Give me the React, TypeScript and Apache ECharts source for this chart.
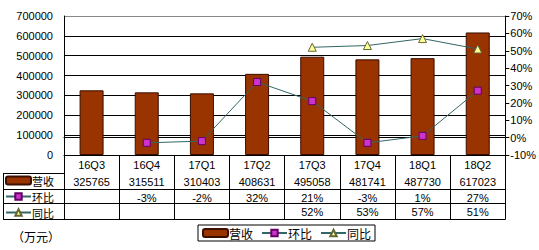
import React, { useEffect, useRef } from "react";
import * as echarts from "echarts";

const categories = ["16Q3", "16Q4", "17Q1", "17Q2", "17Q3", "17Q4", "18Q1", "18Q2"];
const revenue = [325765, 315511, 310403, 408631, 495058, 481741, 487730, 617023];
const qoq: (number | null)[] = [null, -3, -2, 32, 21, -3, 1, 27];
const yoy: (number | null)[] = [null, null, null, null, 52, 53, 57, 51];
const seriesNames = ["营收", "环比", "同比"];
const leftTicks = { min: 0, max: 700000, interval: 100000 };
const rightTicks = { min: -10, max: 70, interval: 10 };

const FONT = "Liberation Sans, Noto Sans CJK SC, sans-serif";
const CJK = "Noto Sans CJK SC, sans-serif";

export default function App() {
  const ref = useRef<HTMLDivElement>(null);
  useEffect(() => {
    if (!ref.current) return;
    const chart = echarts.init(ref.current, undefined, { renderer: "svg" });
    const pct = (v: number | null) => (v == null ? "" : `${v}%`);
    const rowAxis = (offset: number, fmt: ((i: number) => string) | null) => ({
      type: "category",
      data: categories,
      gridIndex: 0,
      position: "bottom",
      offset,
      axisLine: { show: true, lineStyle: { color: "#000", width: 1 } },
      axisTick: { show: false },
      axisLabel: fmt
        ? {
            show: true,
            interval: 0,
            margin: 3,
            color: "#000",
            fontSize: 11,
            fontFamily: FONT,
            formatter: (_v: string, i: number) => fmt(i),
          }
        : { show: false },
      splitLine: { show: false },
    });
    const rowLegend = (name: string, top: number) => ({
      orient: "vertical",
      left: 5,
      top,
      itemWidth: 25,
      itemHeight: 8,
      padding: 0,
      textStyle: { fontSize: 11, fontFamily: CJK, color: "#000", lineHeight: 11, padding: [0, 0, 0, -4] },
      data: [name],
    });
    const rowLines = [173.5, 189.5, 203.5, 219.5].map((y) => ({
      type: "line",
      shape: { x1: 3, y1: y, x2: 64, y2: y },
      style: { stroke: "#000", lineWidth: 1 },
    }));
    const option: any = {
      animation: false,
      backgroundColor: "#fff",
      textStyle: { fontFamily: FONT },
      grid: { left: 64, right: 31, top: 16, bottom: 95 },
      xAxis: [
        {
          type: "category",
          data: categories,
          position: "bottom",
          axisLine: { show: true, lineStyle: { color: "#000", width: 1 } },
          axisTick: { show: true, length: 64, interval: 0, lineStyle: { color: "#000" } },
          axisLabel: { interval: 0, margin: 4, color: "#000", fontSize: 11, fontFamily: FONT },
        },
        rowAxis(18, (i) => String(revenue[i])),
        rowAxis(34, (i) => pct(qoq[i])),
        rowAxis(48, (i) => pct(yoy[i])),
        rowAxis(64, null),
      ],
      yAxis: [
        {
          type: "value",
          ...leftTicks,
          axisLine: { show: true, lineStyle: { color: "#000" } },
          axisTick: { show: false },
          axisLabel: {
            margin: 11,
            color: "#000",
            fontSize: 11,
            fontFamily: FONT,
            formatter: (v: number) => String(v),
          },
          splitLine: {
            show: true,
            lineStyle: { color: ["#000", "#000", "#000", "#000", "#000", "#000", "#000", "#888"], width: 1 },
          },
        },
        {
          type: "value",
          ...rightTicks,
          position: "right",
          axisLine: { show: true, lineStyle: { color: "#000" } },
          axisTick: { show: true, length: 4, lineStyle: { color: "#000" } },
          axisLabel: { margin: 5, color: "#000", fontSize: 11, fontFamily: FONT, formatter: "{value}%" },
          splitLine: { show: false },
        },
      ],
      legend: [
        rowLegend(seriesNames[0], 175),
        rowLegend(seriesNames[1], 191),
        rowLegend(seriesNames[2], 207),
        {
          orient: "horizontal",
          left: 198,
          top: 225,
          itemWidth: 25,
          itemHeight: 8,
          itemGap: 8,
          padding: [1, 4, 1, 4],
          borderColor: "#000",
          borderWidth: 1,
          textStyle: { fontSize: 12, fontFamily: CJK, color: "#000", lineHeight: 14, padding: [0, 0, 0, -4] },
          data: seriesNames,
        },
      ],
      graphic: [
        { type: "line", shape: { x1: 3.5, y1: 173, x2: 3.5, y2: 220 }, style: { stroke: "#000", lineWidth: 1 } },
        ...rowLines,
        {
          type: "text",
          left: 12,
          top: 230,
          style: { text: "（万元）", fontSize: 12, fontFamily: CJK, fill: "#000" },
        },
      ],
      series: [
        {
          name: seriesNames[0],
          type: "bar",
          xAxisIndex: 0,
          yAxisIndex: 0,
          data: revenue,
          barWidth: 24,
          itemStyle: { color: "#993300", borderColor: "#3a0e00", borderWidth: 1 },
        },
        {
          name: seriesNames[1],
          type: "line",
          xAxisIndex: 0,
          yAxisIndex: 1,
          data: qoq,
          symbol: "rect",
          symbolSize: 7,
          lineStyle: { color: "#336666", width: 1 },
          itemStyle: { color: "#cc33cc", borderColor: "#660066", borderWidth: 1 },
        },
        {
          name: seriesNames[2],
          type: "line",
          xAxisIndex: 0,
          yAxisIndex: 1,
          data: yoy,
          symbol: "triangle",
          symbolSize: 8,
          lineStyle: { color: "#336666", width: 1 },
          itemStyle: { color: "#ffff99", borderColor: "#666633", borderWidth: 1 },
        },
      ],
    };
    chart.setOption(option);
    return () => chart.dispose();
  }, []);
  return (
    <div
      ref={ref}
      style={{ position: "fixed", left: 0, top: 0, width: 539, height: 250, background: "#fff" }}
    />
  );
}
